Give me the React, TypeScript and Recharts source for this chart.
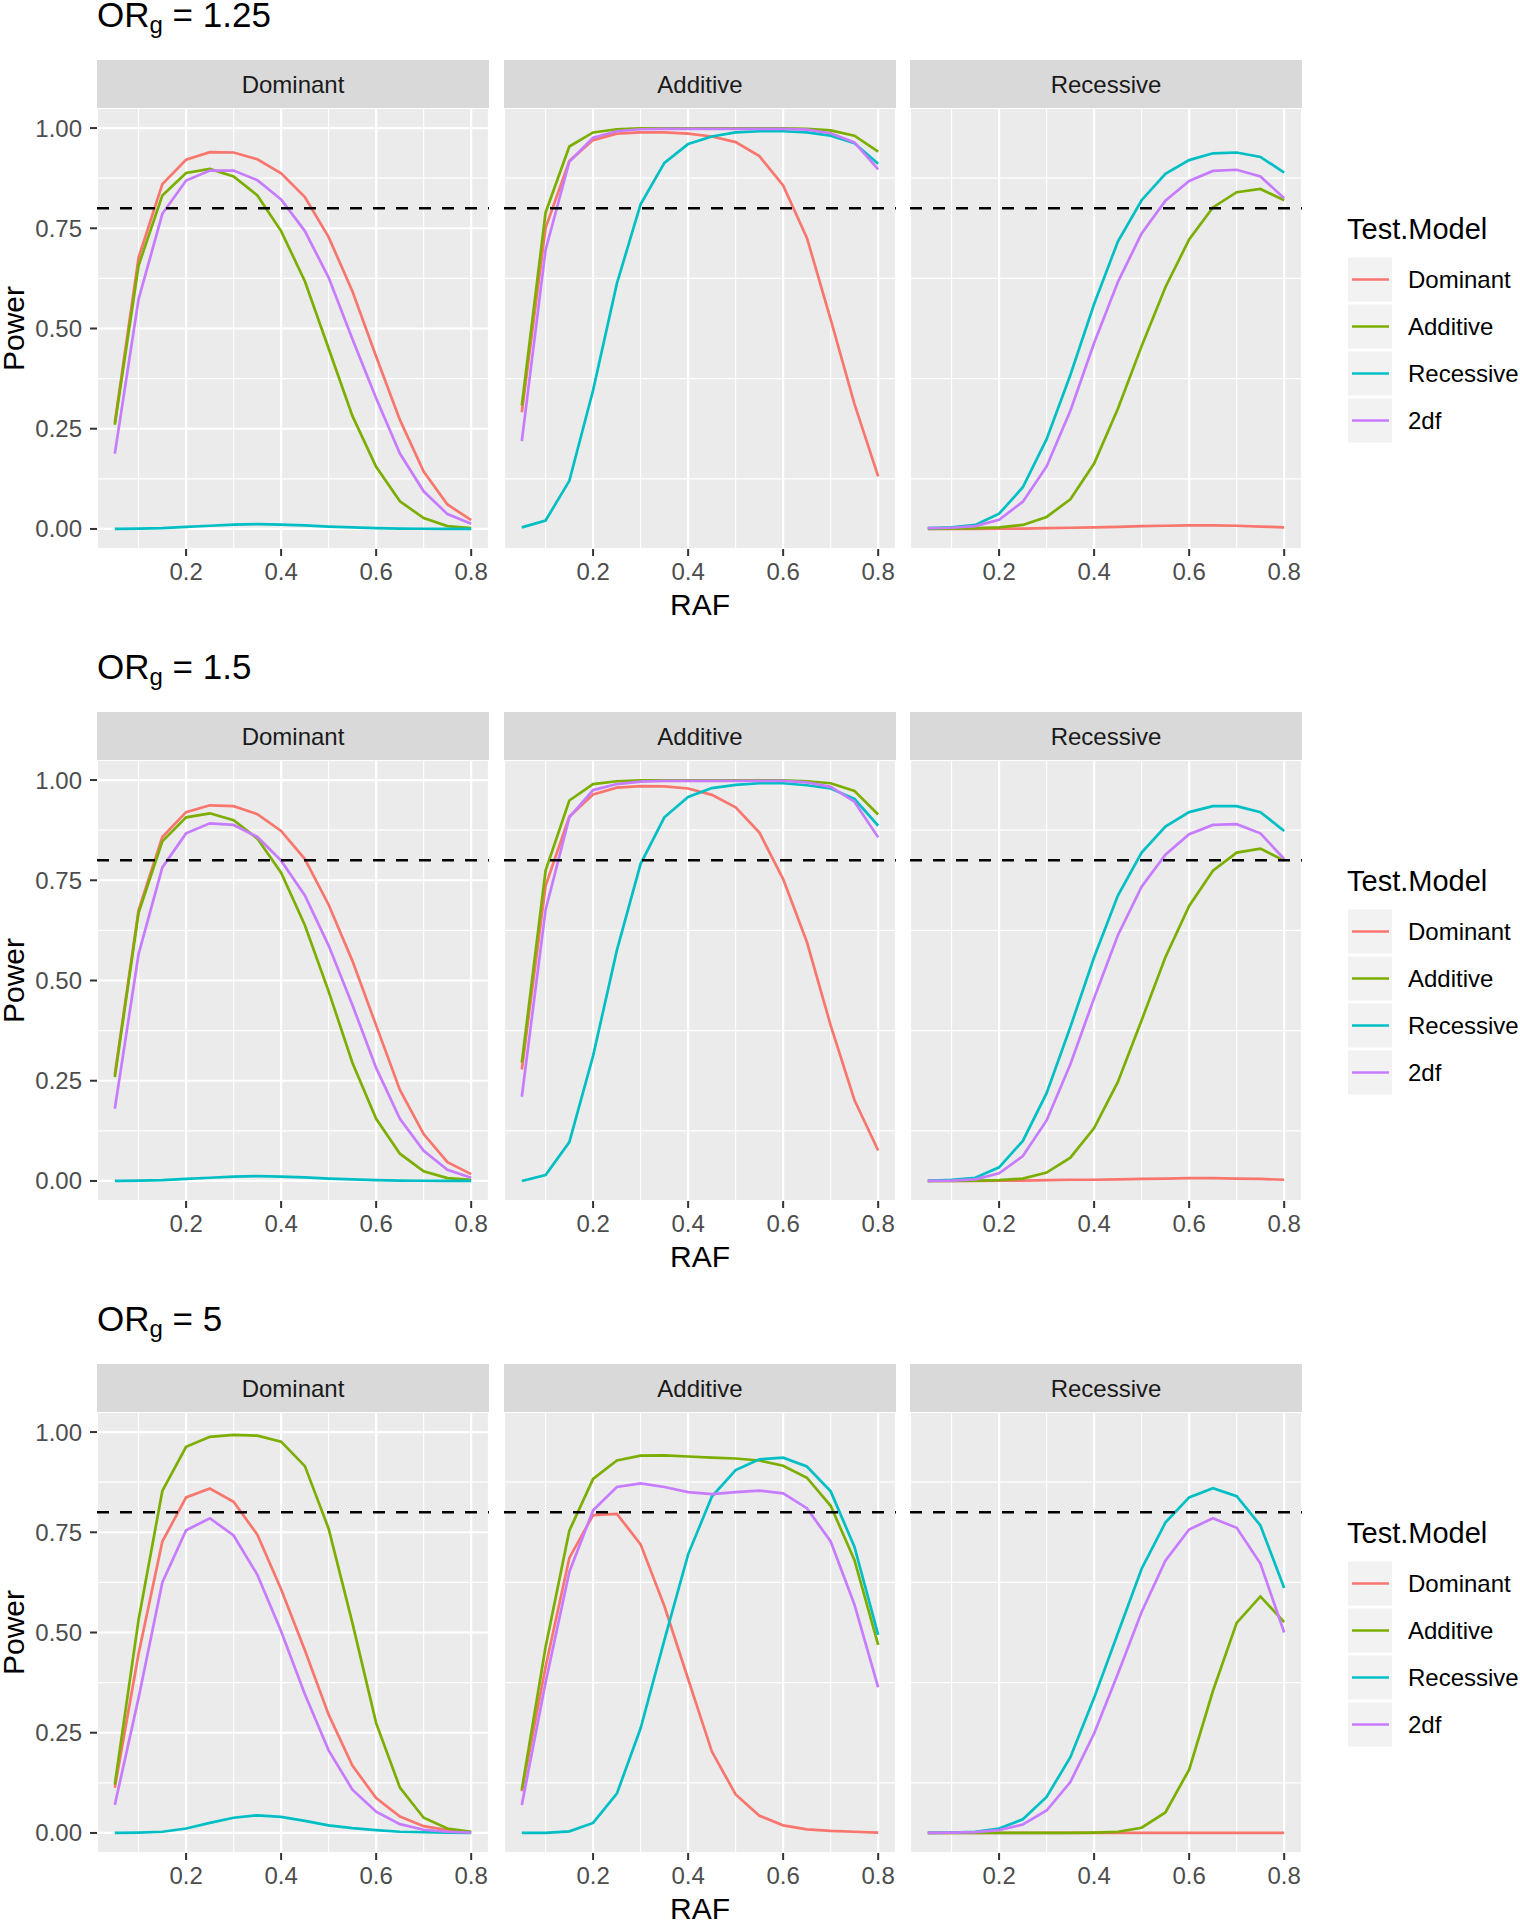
import { CartesianGrid, Line, LineChart, ReferenceLine, XAxis, YAxis } from "recharts";

const RAF = [0.05, 0.1, 0.15, 0.2, 0.25, 0.3, 0.35, 0.4, 0.45, 0.5, 0.55, 0.6, 0.65, 0.7, 0.75, 0.8];
const TEST_MODELS = ["Dominant", "Additive", "Recessive", "2df"];
const TRUE_MODELS = ["Dominant", "Additive", "Recessive"];
const OR_LABELS = ["1.25", "1.5", "5"];
const COLORS: Record<string, string> = {
  Dominant: "#F8766D",
  Additive: "#7CAE00",
  Recessive: "#00BFC4",
  "2df": "#C77CFF",
};
const X_TICKS = [0.2, 0.4, 0.6, 0.8];
const X_MINOR = [0.1, 0.3, 0.5, 0.7];
const Y_TICKS = [0, 0.25, 0.5, 0.75, 1];
const Y_MINOR = [0.125, 0.375, 0.625, 0.875];
const POWER_TARGET = 0.8;

// OR_g = 1.25
const OR125_DOM = {
  Dominant: [0.265, 0.677, 0.86, 0.921, 0.94, 0.939, 0.922, 0.887, 0.828, 0.728, 0.593, 0.43, 0.272, 0.143, 0.061, 0.022],
  Additive: [0.26, 0.657, 0.832, 0.888, 0.898, 0.879, 0.832, 0.743, 0.618, 0.45, 0.282, 0.155, 0.069, 0.027, 0.007, 0.002],
  Recessive: [0, 0.001, 0.002, 0.005, 0.008, 0.011, 0.012, 0.011, 0.009, 0.006, 0.004, 0.002, 0.001, 0.0005, 0, 0],
  "2df": [0.188, 0.573, 0.786, 0.869, 0.894, 0.894, 0.87, 0.822, 0.743, 0.627, 0.474, 0.326, 0.188, 0.094, 0.037, 0.013],
};
const OR125_ADD = {
  Dominant: [0.291, 0.751, 0.918, 0.97, 0.986, 0.989, 0.989, 0.986, 0.979, 0.965, 0.93, 0.857, 0.726, 0.523, 0.312, 0.131],
  Additive: [0.308, 0.789, 0.954, 0.989, 0.997, 0.999, 0.999, 0.999, 0.999, 0.999, 0.999, 0.999, 0.998, 0.994, 0.981, 0.941],
  Recessive: [0.004, 0.021, 0.12, 0.346, 0.612, 0.81, 0.913, 0.96, 0.979, 0.989, 0.992, 0.992, 0.989, 0.981, 0.962, 0.911],
  "2df": [0.219, 0.696, 0.916, 0.976, 0.992, 0.997, 0.998, 0.998, 0.998, 0.998, 0.998, 0.998, 0.996, 0.987, 0.964, 0.897],
};
const OR125_REC = {
  Dominant: [0, 0, 0, 0.001, 0.001, 0.002, 0.003, 0.004, 0.005, 0.007, 0.008, 0.009, 0.009, 0.008, 0.006, 0.004],
  Additive: [0, 0.001, 0.002, 0.004, 0.01, 0.03, 0.074, 0.163, 0.3, 0.456, 0.603, 0.722, 0.802, 0.84, 0.848, 0.82],
  Recessive: [0.002, 0.004, 0.01, 0.038, 0.104, 0.224, 0.384, 0.561, 0.717, 0.82, 0.886, 0.92, 0.937, 0.939, 0.928, 0.889],
  "2df": [0.002, 0.003, 0.007, 0.023, 0.068, 0.156, 0.295, 0.464, 0.616, 0.737, 0.819, 0.868, 0.893, 0.896, 0.879, 0.825],
};

// OR_g = 1.5
const OR15_DOM = {
  Dominant: [0.265, 0.676, 0.858, 0.92, 0.937, 0.935, 0.915, 0.873, 0.803, 0.689, 0.549, 0.388, 0.227, 0.117, 0.047, 0.017],
  Additive: [0.259, 0.669, 0.847, 0.907, 0.917, 0.9, 0.854, 0.769, 0.638, 0.473, 0.295, 0.155, 0.068, 0.024, 0.007, 0.003],
  Recessive: [0, 0.001, 0.002, 0.005, 0.008, 0.011, 0.012, 0.011, 0.009, 0.006, 0.004, 0.002, 0.001, 0.0005, 0, 0],
  "2df": [0.18, 0.566, 0.782, 0.867, 0.892, 0.888, 0.858, 0.799, 0.712, 0.587, 0.439, 0.282, 0.155, 0.075, 0.028, 0.008],
};
const OR15_ADD = {
  Dominant: [0.278, 0.736, 0.909, 0.964, 0.981, 0.985, 0.984, 0.979, 0.963, 0.932, 0.869, 0.753, 0.596, 0.388, 0.202, 0.076],
  Additive: [0.295, 0.774, 0.949, 0.99, 0.997, 0.999, 0.999, 0.999, 0.999, 0.999, 0.999, 0.999, 0.997, 0.992, 0.973, 0.914],
  Recessive: [0, 0.015, 0.097, 0.312, 0.575, 0.791, 0.907, 0.958, 0.98, 0.988, 0.992, 0.992, 0.987, 0.979, 0.953, 0.886],
  "2df": [0.21, 0.676, 0.907, 0.975, 0.99, 0.996, 0.998, 0.998, 0.998, 0.998, 0.998, 0.998, 0.994, 0.983, 0.946, 0.857],
};
const OR15_REC = {
  Dominant: [0, 0, 0, 0.001, 0.001, 0.002, 0.003, 0.003, 0.004, 0.005, 0.006, 0.007, 0.007, 0.006, 0.005, 0.003],
  Additive: [0, 0, 0.001, 0.002, 0.006, 0.021, 0.058, 0.132, 0.247, 0.401, 0.558, 0.686, 0.774, 0.819, 0.829, 0.799],
  Recessive: [0, 0.003, 0.008, 0.034, 0.1, 0.219, 0.384, 0.558, 0.712, 0.819, 0.884, 0.92, 0.935, 0.935, 0.92, 0.873],
  "2df": [0, 0.001, 0.004, 0.019, 0.062, 0.151, 0.291, 0.456, 0.613, 0.734, 0.814, 0.865, 0.888, 0.89, 0.867, 0.803],
};

// OR_g = 5
const OR5_DOM = {
  Dominant: [0.113, 0.447, 0.727, 0.837, 0.859, 0.826, 0.744, 0.608, 0.456, 0.295, 0.168, 0.087, 0.041, 0.017, 0.007, 0.002],
  Additive: [0.121, 0.532, 0.853, 0.963, 0.988, 0.993, 0.991, 0.976, 0.915, 0.759, 0.524, 0.274, 0.113, 0.038, 0.011, 0.003],
  Recessive: [0, 0.001, 0.003, 0.011, 0.025, 0.038, 0.044, 0.04, 0.03, 0.019, 0.012, 0.007, 0.003, 0.002, 0.001, 0],
  "2df": [0.07, 0.337, 0.625, 0.755, 0.785, 0.742, 0.644, 0.503, 0.346, 0.206, 0.108, 0.053, 0.022, 0.008, 0.003, 0.001],
};
const OR5_ADD = {
  Dominant: [0.104, 0.414, 0.686, 0.793, 0.796, 0.72, 0.566, 0.384, 0.203, 0.096, 0.043, 0.019, 0.009, 0.005, 0.003, 0.001],
  Additive: [0.108, 0.464, 0.754, 0.883, 0.929, 0.941, 0.942, 0.939, 0.936, 0.934, 0.929, 0.916, 0.886, 0.816, 0.681, 0.469],
  Recessive: [0, 0, 0.004, 0.025, 0.098, 0.261, 0.481, 0.695, 0.839, 0.905, 0.932, 0.936, 0.914, 0.852, 0.714, 0.494],
  "2df": [0.07, 0.375, 0.651, 0.805, 0.863, 0.872, 0.863, 0.85, 0.845, 0.85, 0.854, 0.847, 0.81, 0.727, 0.57, 0.363],
};
const OR5_REC = {
  Dominant: [0, 0, 0, 0, 0, 0, 0, 0, 0, 0, 0, 0, 0, 0, 0, 0],
  Additive: [0, 0, 0, 0, 0, 0, 0, 0.001, 0.003, 0.013, 0.051, 0.158, 0.354, 0.524, 0.59, 0.526],
  Recessive: [0, 0.001, 0.003, 0.011, 0.034, 0.09, 0.189, 0.337, 0.498, 0.659, 0.774, 0.837, 0.86, 0.84, 0.767, 0.611],
  "2df": [0, 0.001, 0.002, 0.007, 0.021, 0.056, 0.127, 0.248, 0.397, 0.551, 0.679, 0.757, 0.785, 0.761, 0.672, 0.5],
};

const PANELS: Record<string, number[]>[][] = [
  [OR125_DOM, OR125_ADD, OR125_REC],
  [OR15_DOM, OR15_ADD, OR15_REC],
  [OR5_DOM, OR5_ADD, OR5_REC],
];

// layout (px)
const FONT = '"Liberation Sans", Arial, Helvetica, sans-serif';
const ROW_PITCH = 652;
const STRIP_TOP = 60;
const STRIP_H = 48;
const PLOT_TOP = STRIP_TOP + STRIP_H;
const PLOT_H = 441;
const PANEL_W = 392;
const PANEL_LEFT = [97, 504, 910];
const Y_AXIS_W = 97;
const X_AXIS_H = 50;

function toRows(panel: Record<string, number[]>) {
  return RAF.map((raf, i) => {
    const row: Record<string, number> = { raf };
    TEST_MODELS.forEach((m) => {
      row[m] = panel[m][i];
    });
    return row;
  });
}

function Panel({ row, col }: { row: number; col: number }) {
  const yw = col === 0 ? Y_AXIS_W : 0;
  const data = toRows(PANELS[row][col]);
  return (
    <div
      style={{
        position: "absolute",
        left: PANEL_LEFT[col] - yw,
        top: PLOT_TOP + row * ROW_PITCH,
      }}
    >
      <LineChart
        width={PANEL_W + yw}
        height={PLOT_H + X_AXIS_H}
        data={data}
        margin={{ top: 0, right: 0, bottom: 0, left: 0 }}
      >
        <CartesianGrid stroke="#FFFFFF" strokeWidth={2.2} fill="#EBEBEB" fillOpacity={1} />
        {X_MINOR.map((v) => (
          <ReferenceLine key={`xm${v}`} x={v} stroke="#FFFFFF" strokeWidth={1.1} zIndex={-90} />
        ))}
        {Y_MINOR.map((v) => (
          <ReferenceLine key={`ym${v}`} y={v} stroke="#FFFFFF" strokeWidth={1.1} zIndex={-90} />
        ))}
        <XAxis
          type="number"
          dataKey="raf"
          domain={[0.0125, 0.8375]}
          ticks={X_TICKS}
          allowDataOverflow
          height={X_AXIS_H}
          axisLine={false}
          tickSize={7}
          tickMargin={7}
          tickLine={{ stroke: "#333333", strokeWidth: 2 }}
          tick={{ fill: "#4D4D4D", fontSize: 24, fontFamily: FONT }}
          tickFormatter={(v: number) => String(v)}
        />
        <YAxis
          type="number"
          domain={[-0.05, 1.05]}
          ticks={Y_TICKS}
          allowDataOverflow
          width={yw}
          axisLine={false}
          tickSize={7}
          tickMargin={8}
          tickLine={col === 0 ? { stroke: "#333333", strokeWidth: 2 } : false}
          tick={col === 0 ? { fill: "#4D4D4D", fontSize: 24, fontFamily: FONT } : false}
          tickFormatter={(v: number) => v.toFixed(2)}
        />
        {TEST_MODELS.map((m) => (
          <Line
            key={m}
            type="linear"
            dataKey={m}
            stroke={COLORS[m]}
            strokeWidth={2.7}
            dot={false}
            activeDot={false}
            isAnimationActive={false}
          />
        ))}
        <ReferenceLine
          y={POWER_TARGET}
          stroke="#000000"
          strokeWidth={2.4}
          strokeDasharray="12 11"
          zIndex={450}
        />
      </LineChart>
    </div>
  );
}

function Decorations() {
  return (
    <svg
      width={1520}
      height={1920}
      style={{ position: "absolute", left: 0, top: 0, fontFamily: FONT }}
    >
      {OR_LABELS.map((or, r) => {
        const off = r * ROW_PITCH;
        return (
          <g key={or}>
            <text x={97} y={27 + off} fontSize={35} fill="#000000">
              <tspan>OR</tspan>
              <tspan fontSize={24} dy={6}>g</tspan>
              <tspan dy={-6}>{` = ${or}`}</tspan>
            </text>
            {TRUE_MODELS.map((tm, c) => (
              <g key={tm}>
                <rect x={PANEL_LEFT[c]} y={STRIP_TOP + off} width={PANEL_W} height={STRIP_H} fill="#D9D9D9" />
                <text
                  x={PANEL_LEFT[c] + PANEL_W / 2}
                  y={STRIP_TOP + off + STRIP_H / 2 + 8.6}
                  fontSize={24}
                  fill="#1A1A1A"
                  textAnchor="middle"
                >
                  {tm}
                </text>
              </g>
            ))}
            <text
              x={PANEL_LEFT[1] + PANEL_W / 2}
              y={PLOT_TOP + PLOT_H + 66 + off}
              fontSize={30}
              fill="#000000"
              textAnchor="middle"
            >
              RAF
            </text>
            <text
              transform={`translate(24, ${PLOT_TOP + PLOT_H / 2 + off}) rotate(-90)`}
              fontSize={30}
              fill="#000000"
              textAnchor="middle"
            >
              Power
            </text>
            <text x={1347} y={239 + off} fontSize={29} fill="#000000">
              Test.Model
            </text>
            {TEST_MODELS.map((m, k) => {
              const cy = 279.5 + k * 47 + off;
              return (
                <g key={m}>
                  <rect x={1348} y={cy - 22} width={44} height={44} fill="#F2F2F2" />
                  <line x1={1352} x2={1389} y1={cy} y2={cy} stroke={COLORS[m]} strokeWidth={2.7} />
                  <text x={1408} y={cy + 8.6} fontSize={24} fill="#000000">
                    {m}
                  </text>
                </g>
              );
            })}
          </g>
        );
      })}
    </svg>
  );
}

export default function App() {
  return (
    <div
      style={{
        position: "absolute",
        left: 0,
        top: 0,
        width: 1520,
        height: 1920,
        background: "#FFFFFF",
        overflow: "hidden",
      }}
    >
      <Decorations />
      {[0, 1, 2].map((r) => [0, 1, 2].map((c) => <Panel key={`${r}-${c}`} row={r} col={c} />))}
    </div>
  );
}
